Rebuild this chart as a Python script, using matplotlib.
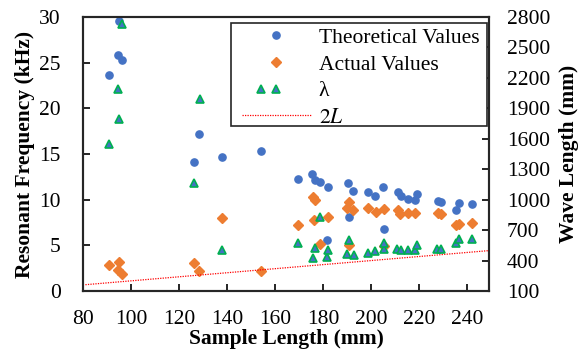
import numpy as np
import matplotlib
matplotlib.use('Agg')
import matplotlib.pyplot as plt
from matplotlib.legend_handler import HandlerLine2D
from matplotlib.patches import Rectangle

plt.rcParams['font.family'] = ['Liberation Serif', 'DejaVu Serif']
plt.rcParams['mathtext.fontset'] = 'stix'

# theoretical resonant frequency (kHz)
theo_x = [91.0, 94.5, 95.0, 96.1, 126.0, 128.3, 137.8, 154.0, 169.3, 175.5, 176.7,
          178.5, 181.8, 181.5, 190.3, 192.4, 190.6, 198.5, 201.7, 204.9, 205.1,
          211.1, 212.5, 215.3, 218.3, 219.0, 227.6, 229.0, 235.3, 236.4, 241.9]
theo_f = [23.6, 25.8, 29.6, 25.3, 14.1, 17.2, 14.7, 15.3, 12.3, 12.8, 12.2,
          11.95, 11.4, 5.6, 11.8, 10.9, 8.05, 10.86, 10.4, 11.4, 6.77,
          10.8, 10.4, 10.1, 10.0, 10.6, 9.87, 9.7, 8.9, 9.65, 9.47]

# measured resonant frequency (kHz)
act_x = [91.0, 94.5, 95.0, 96.1, 126.0, 128.3, 137.8, 154.0, 169.3, 175.7, 176.7,
         176.3, 181.8, 178.5, 190.6, 189.9, 192.4, 190.6, 198.5, 202.0, 205.1,
         205.1, 211.1, 212.1, 215.3, 218.3, 227.6, 229.0, 235.3, 236.4, 241.9]
act_f = [2.9, 2.27, 3.2, 1.83, 3.07, 2.19, 8.0, 2.24, 7.2, 10.3, 10.0,
         7.8, 8.05, 5.1, 9.76, 9.1, 8.9, 5.0, 9.1, 8.6, 8.96,
         4.9, 8.85, 8.4, 8.55, 8.55, 8.5, 8.4, 7.2, 7.3, 7.4]

# wave length (mm)
lam_x = [91.0, 94.5, 95.0, 96.4, 126.0, 128.5, 137.8, 169.3, 175.9, 176.7,
         178.5, 181.5, 181.8, 189.9, 190.6, 192.6, 198.5, 201.7, 205.1, 205.1,
         210.7, 212.5, 215.3, 218.3, 219.0, 227.4, 229.0, 235.3, 236.4, 241.9]
lam_mm = [1548, 2087, 1791, 2732, 1160, 1992, 502, 574, 430, 528,
          830, 435, 508, 469, 600, 452, 475, 495, 518, 568,
          518, 508, 502, 508, 551, 518, 518, 574, 617, 617]

# 2L reference line
line_L = np.array([81, 250])

yticks_r = list(range(100, 2801, 300))

FS = 15.5


class TwoMarkers(HandlerLine2D):
    # two markers sitting in the left half of the handle
    def get_xdata(self, legend, xdescent, ydescent, width, height, fontsize):
        x = -xdescent + width * np.array([0.28, 0.5])
        return x, x


fig = plt.figure(figsize=(5.83, 3.56), dpi=100)
ax = fig.add_axes([0.1424, 0.1826, 0.6964, 0.7697])
ax2 = ax.twinx()

h1, = ax.plot(theo_x, theo_f, 'o', color='#4472C4', ms=5.2, mec='#4472C4',
              label='Theoretical Values')
h2, = ax.plot(act_x, act_f, 'D', color='#ED7D31', ms=4.6, mec='#ED7D31',
              label='Actual Values')
h3, = ax2.plot(lam_x, lam_mm, '^', color='#4472C4', ms=6, mec='#00B050',
               mew=1.2, label='λ')
h4, = ax2.plot(line_L, 2 * line_L, color='red', lw=0.9, ls=(0, (1, 1)),
               label='$2L$')

ax.set_xlim(80, 249)
ax.set_ylim(0, 30)
ax2.set_ylim(100, 2800)
ax.set_xticks(range(80, 241, 20))
ax.set_yticks(range(0, 31, 5))
ax2.set_yticks(yticks_r)

for a in (ax, ax2):
    a.tick_params(direction='in', length=5, width=1.2, labelsize=FS)
    for s in a.spines.values():
        s.set_linewidth(1.5)
        s.set_color('#262626')
ax.tick_params(axis='x', pad=14)
ax.tick_params(axis='y', pad=16)
ax2.tick_params(axis='y', pad=13)

ax.set_xlabel('Sample Length (mm)', fontsize=FS, fontweight='bold', labelpad=0)
ax.set_ylabel('Resonant Frequency (kHz)', fontsize=FS, fontweight='bold', labelpad=3)
ax2.set_ylabel('Wave Length (mm)', fontsize=FS, fontweight='bold', labelpad=6)

# legend frame drawn separately so the box can be wider than the content
box = Rectangle((0.3645, 0.602), 0.6305, 0.376, transform=ax2.transAxes,
                facecolor='white', edgecolor='#262626', lw=1.2, zorder=4.5,
                clip_on=False)
ax2.add_patch(box)

leg = ax2.legend([h1, h2, h3, h4], [h.get_label() for h in (h1, h2, h3, h4)],
                 loc='upper left', bbox_to_anchor=(0.391, 0.960), fontsize=FS,
                 handlelength=3.2, handletextpad=0.37, labelspacing=0.3,
                 borderpad=0, borderaxespad=0, frameon=False,
                 handler_map={h3: TwoMarkers(numpoints=2)})

fig.savefig('out.png', dpi=100)
